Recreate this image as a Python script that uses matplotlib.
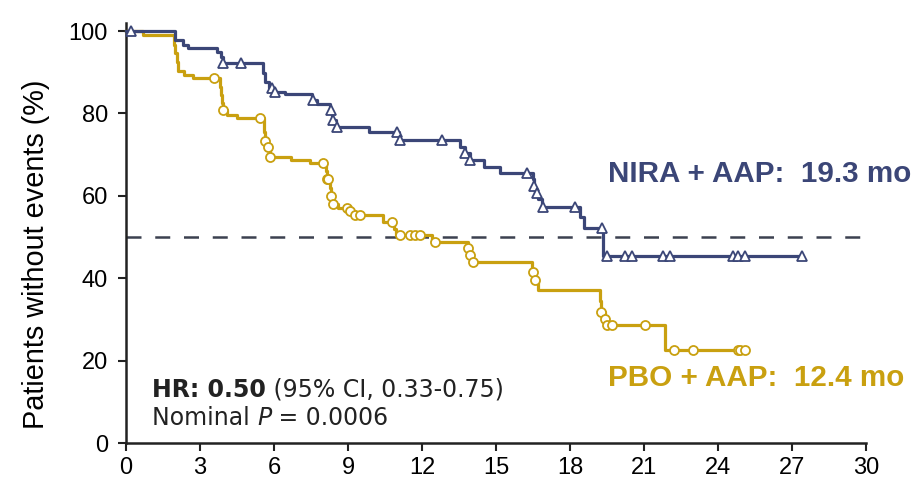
import numpy as np
import matplotlib
matplotlib.use("Agg")
import matplotlib.pyplot as plt

# Kaplan-Meier step data (months, % without events)
nira_times = [0, 2.0, 2.3, 2.5, 3.7, 3.85, 3.95, 5.55, 5.65, 5.8, 6.0, 6.45, 7.55, 7.75,
              8.25, 8.35, 8.5, 9.85, 11.05, 13.55, 13.75, 13.95, 14.5, 15.15, 16.5, 16.55,
              16.6, 16.7, 16.85, 18.4, 18.55, 19.35]
nira_surv = [100, 97.8, 96.6, 95.8, 95.0, 93.8, 92.2, 89.7, 87.7, 86.1, 85.3, 84.7, 83.3, 82.4,
             80.8, 78.4, 76.8, 75.6, 73.5, 71.9, 70.3, 68.7, 67.1, 65.6, 64.0, 62.4,
             60.8, 59.2, 57.4, 54.9, 52.1, 45.4]
nira_end = 27.4
nira_censored = [0.2, 3.95, 4.65, 5.9, 6.05, 7.6, 8.3, 8.4, 8.55, 10.97, 11.1, 12.8, 13.75,
                 13.95, 16.24, 16.55, 16.65, 16.9, 18.2, 19.28, 19.5, 20.23, 20.5, 21.77,
                 22.05, 24.6, 24.8, 25.1, 27.4]

pbo_times = [0, 0.7, 1.95, 2.0, 2.05, 2.1, 2.35, 2.7, 3.8, 3.85, 3.9, 3.95, 4.1, 4.5, 5.6,
             5.65, 5.75, 5.85, 6.7, 7.45, 8.1, 8.15, 8.25, 8.3, 8.4, 8.6, 9.1, 9.3, 10.4,
             10.85, 10.95, 12.4, 13.85, 13.95, 14.05, 16.45, 16.55, 16.7, 19.2, 19.25, 19.4,
             19.5, 21.85]
pbo_surv = [100, 99.0, 96.6, 94.7, 92.6, 90.3, 89.3, 88.5, 86.5, 84.4, 82.6, 80.8, 79.6, 78.8,
            75.5, 73.3, 71.8, 69.5, 68.7, 68.0, 66.0, 64.2, 62.0, 60.0, 58.0, 57.1, 56.2, 55.3,
            53.7, 52.0, 50.5, 48.9, 47.3, 45.7, 43.9, 41.5, 39.6, 37.1, 34.5, 31.9, 30.2,
            28.6, 22.6]
pbo_end = 25.16
pbo_censored = [3.55, 3.95, 5.43, 5.65, 5.75, 5.85, 8.0, 8.15, 8.2, 8.3, 8.4, 8.95, 9.1, 9.3,
                9.5, 10.77, 11.1, 11.5, 11.7, 11.9, 12.53, 13.85, 13.95, 14.07, 16.5, 16.6,
                19.25, 19.4, 19.5, 19.7, 21.04, 22.2, 23.0, 24.8, 24.9, 25.1]

x_ticks = [0, 3, 6, 9, 12, 15, 18, 21, 24, 27, 30]
y_ticks = [0, 20, 40, 60, 80, 100]
median_level = 50

NAVY = "#3b4677"
GOLD = "#c9a010"
DASH = "#3c4150"
INK = "#222222"

plt.rcParams["font.family"] = ["Liberation Sans", "DejaVu Sans"]

fig = plt.figure(figsize=(9.24, 4.9), dpi=100)
ax = fig.add_axes([126 / 924, 1 - 443 / 490, (866 - 126) / 924, (443 - 22.8) / 490])


def step_at(times, surv, t):
    idx = np.searchsorted(times, t, side="right") - 1
    return np.asarray(surv)[idx]


def km_curve(times, surv, end, censored, color, marker, z):
    t = np.append(times, end)
    s = np.append(surv, surv[-1])
    ax.step(t, s, where="post", color=color, lw=2.3, zorder=z, clip_on=False)
    ct = np.asarray(censored)
    ax.plot(ct, step_at(times, surv, ct), ls="none", marker=marker, ms=6.5,
            mfc="white", mec=color, mew=1.3, zorder=z + 0.5, clip_on=False)


ax.axhline(median_level, color=DASH, lw=1.8, dashes=(6, 5.5), zorder=1)
km_curve(pbo_times, pbo_surv, pbo_end, pbo_censored, GOLD, "o", 3)
km_curve(nira_times, nira_surv, nira_end, nira_censored, NAVY, "^", 4)

ax.set_xlim(0, 30)
ax.set_ylim(0, 102)
ax.set_xticks(x_ticks)
ax.set_yticks(y_ticks)
ax.tick_params(labelsize=17, length=6, width=1.5, color=INK)
ax.tick_params(axis="y", pad=7)
ax.tick_params(axis="x", pad=4)
for side in ("top", "right"):
    ax.spines[side].set_visible(False)
for side in ("left", "bottom"):
    ax.spines[side].set_linewidth(1.8)
    ax.spines[side].set_color(INK)
ax.set_ylabel("Patients without events (%)", fontsize=20.8)
ax.yaxis.set_label_coords(-0.103, 0.45)

ax.text(19.55, 65.2, "NIRA + AAP:  19.3 mo", color=NAVY, fontsize=21.3,
        fontweight="bold", va="center", ha="left")
ax.text(19.55, 15.8, "PBO + AAP:  12.4 mo", color=GOLD, fontsize=21.3,
        fontweight="bold", va="center", ha="left")

TXT = 17
hr = ax.text(1.05, 11.2, "HR: 0.50", family="DejaVu Sans", fontsize=TXT,
             fontweight="bold", color=INK, va="baseline", ha="left")
ax.annotate(" (95% CI, 0.33-0.75)", xy=(1, 0), xycoords=hr, va="bottom", ha="left",
            family="DejaVu Sans", fontsize=TXT, color=INK)
nom = ax.text(1.05, 4.4, "Nominal ", family="DejaVu Sans", fontsize=TXT,
              color=INK, va="baseline", ha="left")
pv = ax.annotate("P", xy=(1, 0), xycoords=nom, va="bottom", ha="left",
                 family="DejaVu Sans", fontsize=TXT, style="italic", color=INK)
ax.annotate(" = 0.0006", xy=(1, 0), xycoords=pv, va="bottom", ha="left",
            family="DejaVu Sans", fontsize=TXT, color=INK)

fig.savefig("out.png", dpi=100)
